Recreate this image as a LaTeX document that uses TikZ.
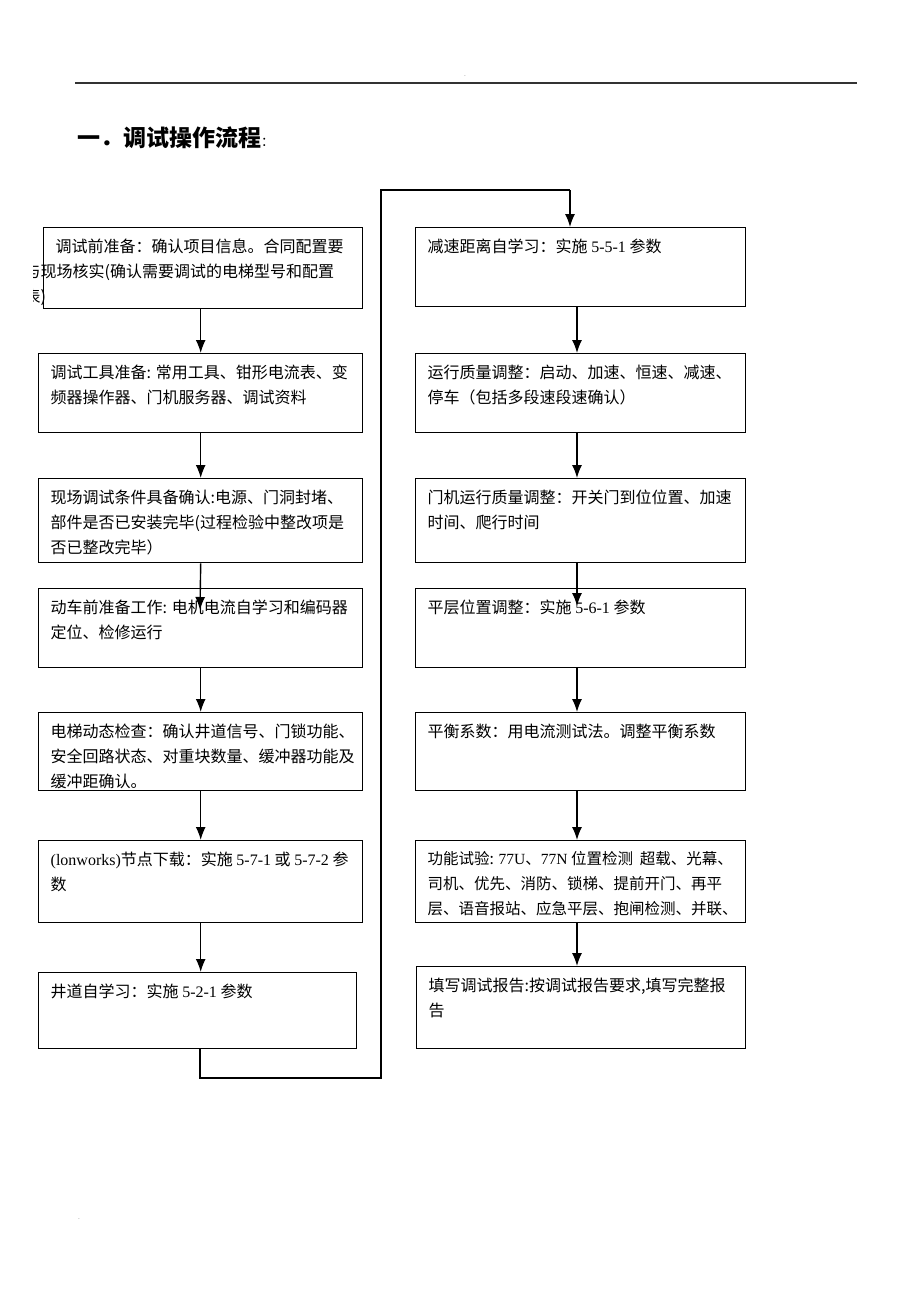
\documentclass[tikz,border=0pt]{standalone}
\usepackage{fontspec}
\setmainfont{Noto Sans CJK SC}
\newfontfamily\lat{Liberation Serif}
\usepackage{tikz}
\usetikzlibrary{arrows.meta,positioning}

% box text: width, height, lines
\newcommand{\boxtext}[3]{\parbox[t][\dimexpr#2pt-22pt\relax][t]{\dimexpr#1pt-24pt\relax}{\raggedright #3}}

\tikzset{
  stepbox/.style={draw, line width=1.4pt, anchor=north west, inner xsep=12pt, inner ysep=11pt,
    font=\fontsize{16}{25}\selectfont},
  flow/.style={line width=1.4pt, -{Latex[length=13pt,width=10pt]}},
  plain/.style={line width=1.4pt}
}

\begin{document}
\begin{tikzpicture}[x=1pt,y=-1pt]
\useasboundingbox (0,0) rectangle (920,1302);
% header
\draw[line width=1.2pt, black!80] (75,83)--(857,83);
\node[font=\tiny, inner sep=0pt] (dotA) at (465,76) {.};
\node[font=\tiny, inner sep=0pt] (dotB) at (79,1219) {.};
\node[anchor=base west, inner sep=0pt, font=\fontsize{23}{23}\selectfont\bfseries] (title) at (77,146)
  {一．调试操作流程{\normalfont\fontsize{13}{13}\selectfont ：}};

% left column
\begin{scope}
\clip (33,0) rectangle (920,1302);
\node[stepbox] (L1) at (43,227) {\boxtext{319}{81}{调试前准备：确认项目信息。合同配置要\\
  \hspace*{-31pt}与现场核实(确认需要调试的电梯型号和配置\\ \hspace*{-31pt}表)}};
\end{scope}
\node[stepbox] (L2) at (38,353) {\boxtext{324}{79}{调试工具准备: 常用工具、钳形电流表、变\\频器操作器、门机服务器、调试资料}};
\node[stepbox] (L3) at (38,478) {\boxtext{324}{84}{现场调试条件具备确认:电源、门洞封堵、\\部件是否已安装完毕(过程检验中整改项是\\否已整改完毕）}};
\node[stepbox] (L4) at (38,588) {\boxtext{324}{79}{动车前准备工作: 电机电流自学习和编码器\\定位、检修运行}};
\node[stepbox] (L5) at (38,712) {\boxtext{324}{78}{电梯动态检查：确认井道信号、门锁功能、\\安全回路状态、对重块数量、缓冲器功能及\\缓冲距确认。}};
\node[stepbox] (L6) at (38,840) {\boxtext{324}{82}{{\lat (lonworks)}节点下载：实施 {\lat 5-7-1} 或 {\lat 5-7-2} 参\\数}};
\node[stepbox] (L7) at (38,972) {\boxtext{318}{76}{井道自学习：实施 {\lat 5-2-1} 参数}};

% right column
\node[stepbox] (R1) at (415,227) {\boxtext{330}{79}{减速距离自学习：实施 {\lat 5-5-1} 参数}};
\node[stepbox] (R2) at (415,353) {\boxtext{330}{79}{运行质量调整：启动、加速、恒速、减速、\\停车（包括多段速段速确认）}};
\node[stepbox] (R3) at (415,478) {\boxtext{330}{84}{门机运行质量调整：开关门到位位置、加速\\时间、爬行时间}};
\node[stepbox] (R4) at (415,588) {\boxtext{330}{79}{平层位置调整：实施 {\lat 5-6-1} 参数}};
\node[stepbox] (R5) at (415,712) {\boxtext{330}{78}{平衡系数：用电流测试法。调整平衡系数}};
\node[stepbox, font=\fontsize{15.5}{25}\selectfont] (R6) at (415,840) {\boxtext{330}{82}{功能试验: {\lat 77U}、{\lat 77N} 位置检测\ \ 超载、光幕、\\司机、优先、消防、锁梯、提前开门、再平\\层、语音报站、应急平层、抱闸检测、并联、}};
\node[stepbox] (R7) at (416,966) {\boxtext{329}{82}{填写调试报告:按调试报告要求,填写完整报\\告}};

% arrows
\coordinate (l4tip) at (200,610);
\coordinate (r4tip) at (577,606);
\draw[flow] (L1.south -| L2.north) -- (L2.north);
\draw[flow] (L2.south) -- (L3.north);
\draw[flow] (L3.south) -- (l4tip);
\draw[flow] (L4.south) -- (L5.north);
\draw[flow] (L5.south) -- (L6.north);
\draw[flow] (L6.south) -- (L7.north -| L6.south);
\draw[flow] (R1.south -| r4tip) -- (R2.north -| r4tip);
\draw[flow] (R2.south -| r4tip) -- (R3.north -| r4tip);
\draw[flow] (R3.south -| r4tip) -- (r4tip);
\draw[flow] (R4.south -| r4tip) -- (R5.north -| r4tip);
\draw[flow] (R5.south -| r4tip) -- (R6.north -| r4tip);
\draw[flow] (R6.south -| r4tip) -- (R7.north -| r4tip);

% loop to the right column
\coordinate (turnA) at (200,1078);
\coordinate (turnB) at (381,1078);
\coordinate (turnC) at (381,190);
\coordinate (turnD) at (570,190);
\draw[plain] (L7.south -| turnA) -- (turnA) -- (turnB) -- (turnC) -- (turnD);
\draw[flow] (turnD) -- (R1.north -| turnD);
\end{tikzpicture}
\end{document}
